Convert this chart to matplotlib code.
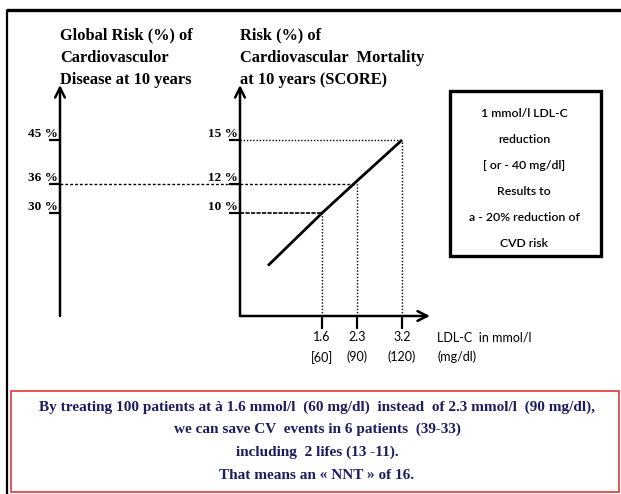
import matplotlib
matplotlib.use('Agg')
import matplotlib.pyplot as plt
from matplotlib.patches import Rectangle

# ---- data ----
ldl_mmol = [1.6, 2.3, 3.2]
ldl_mgdl = ['[60]', '(90)', '(120)']
score_risk = [10, 12, 15]
global_risk = [30, 36, 45]
line_x = [0.52, 1.6, 2.3, 3.2]
line_y = [6.4, 10, 12.2, 15]

box_lines = ['1 mmol/l LDL-C', 'reduction', '[ or - 40 mg/dl]', 'Results to',
             'a - 20% reduction of', 'CVD risk']
note_lines = ['By treating 100 patients at à 1.6 mmol/l  (60 mg/dl)  instead  of 2.3 mmol/l  (90 mg/dl),',
              'we can save CV  events in 6 patients  (39-33)',
              'including  2 lifes (13 -11).',
              'That means an « NNT » of 16.']

W, H = 621, 494
fig = plt.figure(figsize=(W / 100, H / 100), dpi=100)


def px_rect(x0, y0, x1, y1):
    return [x0 / W, 1 - y1 / H, (x1 - x0) / W, (y1 - y0) / H]


bg = fig.add_axes([0, 0, 1, 1])
bg.set_xlim(0, W)
bg.set_ylim(H, 0)
bg.axis('off')

SERIF = 'Liberation Serif'
SANS = 'Lato'

# outer frame (top + left)
bg.plot([7, 7], [10, H], color='black', lw=1.6, solid_capstyle='butt')
bg.plot([6, W], [10, 10], color='black', lw=2.4, solid_capstyle='butt')

# titles
bg.text(60, 27, 'Global Risk (%) of\nCardiovasculor\nDisease at 10 years', va='top', ha='left',
        family=SERIF, weight='bold', size=11.8, linespacing=1.55)
bg.text(240, 27, 'Risk (%) of\nCardiovascular  Mortality\nat 10 years (SCORE)', va='top', ha='left',
        family=SERIF, weight='bold', size=11.8, linespacing=1.55)

# ---- chart axes ----
YL = (2.95, 18.77)
ax = fig.add_axes(px_rect(240, 85, 430, 316))
ax.set_xlim(-0.04, 3.76)
ax.set_ylim(*YL)
for s in ax.spines.values():
    s.set_visible(False)
ax.patch.set_alpha(0)
arrow = dict(arrowstyle='->,head_length=0.7,head_width=0.35', lw=1.8, color='black',
             shrinkA=0, shrinkB=0)
ax.annotate('', xy=(0, 1), xytext=(0, 0), xycoords='axes fraction', arrowprops=arrow)
ax.annotate('', xy=(1, 0), xytext=(0, 0), xycoords='axes fraction', arrowprops=arrow)

ax.set_yticks(score_risk)
ax.set_yticklabels([f'{v} %' for v in score_risk], family=SERIF, weight='bold', size=9.5)
ax.tick_params(axis='y', direction='out', length=8, width=1.6, pad=-6.5)
for lbl in ax.get_yticklabels():
    lbl.set_va('bottom')
ax.set_xticks(ldl_mmol)
ax.set_xticklabels([f'{a}\n{b}' for a, b in zip(ldl_mmol, ldl_mgdl)], family=SANS, size=9,
                   linespacing=1.7)
ax.tick_params(axis='x', direction='out', length=9, width=1.6, pad=2)

ax.plot(line_x, line_y, color='black', lw=2.0, solid_capstyle='butt')

ax.vlines(ldl_mmol, YL[0], score_risk, colors='black', lw=1.0, linestyles=[(0, (1, 1.3))])
ax.hlines([score_risk[2]], ax.get_xlim()[0], [ldl_mmol[2]], colors='black', lw=1.0,
          linestyles=[(0, (1, 1.3))])
ax.hlines([score_risk[0]], ax.get_xlim()[0], [ldl_mmol[0]], colors='black', lw=1.2,
          linestyles=[(0, (2.5, 0.8))])

# ---- left axis (global risk = 3x SCORE scale) ----
axl = fig.add_axes(px_rect(60, 85, 61, 316))
axl.set_ylim(YL[0] * 3, YL[1] * 3)
axl.set_xlim(0, 1)
for s in axl.spines.values():
    s.set_visible(False)
axl.patch.set_alpha(0)
axl.set_xticks([])
axl.annotate('', xy=(0, 1), xytext=(0, 0), xycoords='axes fraction', arrowprops=arrow)
axl.set_yticks(global_risk)
axl.set_yticklabels([f'{v} %' for v in global_risk], family=SERIF, weight='bold', size=9.5)
axl.tick_params(axis='y', direction='out', length=8, width=1.6, pad=-6.5)
for lbl in axl.get_yticklabels():
    lbl.set_va('bottom')

# dotted guide at 36 % / 12 % from left axis to the line
x_left = ax.transData.inverted().transform(axl.transAxes.transform((0, 0)))[0]
ax.hlines([score_risk[1]], x_left, [ldl_mmol[1]], colors='black', lw=1.0,
          linestyles=[(0, (2, 1.5))], clip_on=False)

# x-axis label
bg.text(437, 331, 'LDL-C  in mmol/l\n(mg/dl)', va='top', ha='left', family=SANS, size=9,
        linespacing=1.7)

# information box
bg.add_patch(Rectangle((450, 91), 151, 165, fill=False, lw=2.4, edgecolor='black'))
for i, t in enumerate(box_lines):
    bg.text(524, 113 + i * 26, t, ha='center', va='center', family=SANS, weight='semibold',
            size=8.8)

# red note box
bg.add_patch(Rectangle((11, 391), 608, 101, fill=False, lw=1.3, edgecolor='#e04848'))
for i, t in enumerate(note_lines):
    bg.text(317, 407 + i * 22.7, t, ha='center', va='center', family=SERIF, weight='bold',
            size=11, color='#1c1c60')

fig.savefig('out.png', dpi=100)
